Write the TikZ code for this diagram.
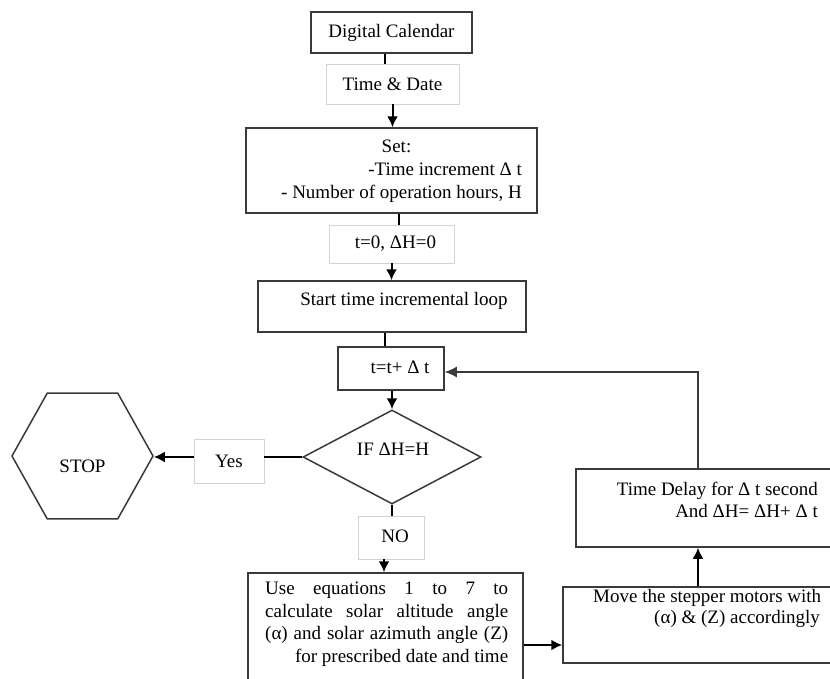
\documentclass[tikz,border=0pt]{standalone}
\usepackage{fontspec}
\setmainfont{Liberation Serif}
\usetikzlibrary{arrows.meta,shapes.geometric}
\definecolor{boxline}{HTML}{3A3A3A}
\definecolor{lightline}{HTML}{D4D4D4}
\begin{document}
\begin{tikzpicture}[x=1pt,y=-1pt,
  font=\fontsize{19}{23}\selectfont,
  box/.style={draw=boxline,line width=1.5pt,rectangle,inner sep=0pt},
  lbox/.style={draw=lightline,line width=0.8pt,rectangle,inner sep=0pt,fill=white},
  txt/.style={inner sep=0pt,text=black},
  conn/.style={draw=black,line width=2pt},
  arr/.style={conn,-{Latex[length=11pt,width=11pt]}},
  fb/.style={draw=boxline,line width=1.4pt,-{Latex[length=12pt,width=11pt]}}]
\clip (0,0) rectangle (830,678);
\fill[white] (0,0) rectangle (830,678);

% boxes
\node[box,minimum width=161pt,minimum height=41pt] (dc) at (391.5,32.5) {Digital Calendar};
\node[lbox,minimum width=133pt,minimum height=40pt] (td) at (392.5,84) {Time \& Date};
\node[box,minimum width=291pt,minimum height=85pt] (set) at (391.5,170.5) {};
\node[txt,anchor=east] (settext) at (522,171) {\begin{tabular}{@{}r@{}}\multicolumn{1}{@{}c@{}}{\hspace*{-10pt}Set:}\\ -Time increment Δ t\\ - Number of operation hours, H\end{tabular}};
\node[lbox,minimum width=125pt,minimum height=38pt] (tz) at (391.5,244) {\hspace*{8pt}t=0, ΔH=0};
\node[box,minimum width=268pt,minimum height=51pt] (start) at (392,306.5) {};
\node[txt] (starttext) at (404,301) {Start time incremental loop};
\node[box,minimum width=106pt,minimum height=43pt] (tt) at (391,368.5) {};
\node[txt] (tttext) at (400,367) {t=t+ Δ t};
\node[draw=boxline,line width=1.5pt,diamond,inner sep=0pt,minimum width=178pt,minimum height=94pt] (if) at (392,457) {};
\node[txt] (iftext) at (393,449) {IF ΔH=H};
\node[lbox,minimum width=70pt,minimum height=44pt] (yes) at (229,461) {Yes};
\node[draw=boxline,line width=1.5pt,regular polygon,regular polygon sides=6,inner sep=0pt,minimum size=141pt,yscale=1.03] (stop) at (82.5,456) {};
\node[txt] (stoptext) at (82.5,466) {STOP};
\node[lbox,minimum width=66pt,minimum height=43pt] (no) at (391,537.5) {};
\node[txt] (notext) at (395,536) {NO};
\node[box,minimum width=275pt,minimum height=140pt] (use) at (385.5,643) {};
\node[txt,anchor=north west,align=left] (usetext) at (265,582) {\parbox{243pt}{\fontsize{19}{22.6}\selectfont
Use\hfill equations\hfill 1\hfill to\hfill 7\hfill to\\
calculate\hfill solar\hfill altitude\hfill angle\\
(α)\hfill and\hfill solar\hfill azimuth\hfill angle\hfill (Z)\\
\hspace*{\fill}for prescribed date and time}};
\node[box,minimum width=290pt,minimum height=76pt] (move) at (708,625) {};
\node[txt,anchor=west] (movet1) at (593,598) {Move the stepper motors with};
\node[txt,anchor=east] (movet2) at (820,619) {(α) \& (Z) accordingly};
\node[box,minimum width=280pt,minimum height=78pt] (delay) at (716,508) {};
\node[txt,anchor=east] (delayt1) at (818,491) {Time Delay for Δ t second};
\node[txt,anchor=east] (delayt2) at (818,511) {And ΔH= ΔH+ Δ t};

% connectors
\draw[conn] ([xshift=-6.5pt]dc.south) -- ([xshift=-7.5pt]td.north);
\draw[arr] (td.south) -- (set.north -| td.south);
\draw[conn] ([xshift=7.5pt]set.south) -- ([xshift=7.5pt]tz.north);
\draw[arr] (tz.south) -- (start.north -| tz.south);
\draw[conn] ([xshift=-7pt]start.south) -- ([xshift=-6pt]tt.north);
\draw[arr] ([xshift=1pt]tt.south) -- (if.north);
\draw[conn] (if.west) -- (yes.east |- if.west);
\draw[arr] (yes.west |- if.west) -- (stop.east |- if.west);
\draw[conn] (if.south) -- (no.north -| if.south);
\draw[arr] ([xshift=-7pt]no.south) -- ([xshift=-7pt]no.south |- use.north);
\draw[arr] (use.east |- 0,645) -- (move.west |- 0,645);
\draw[arr] (move.north -| 698,0) -- (delay.south -| 698,0);
\coordinate (fbtop) at (698,372);
\draw[fb] (delay.north -| fbtop) -- (fbtop) -- (tt.east |- fbtop);
\end{tikzpicture}
\end{document}
